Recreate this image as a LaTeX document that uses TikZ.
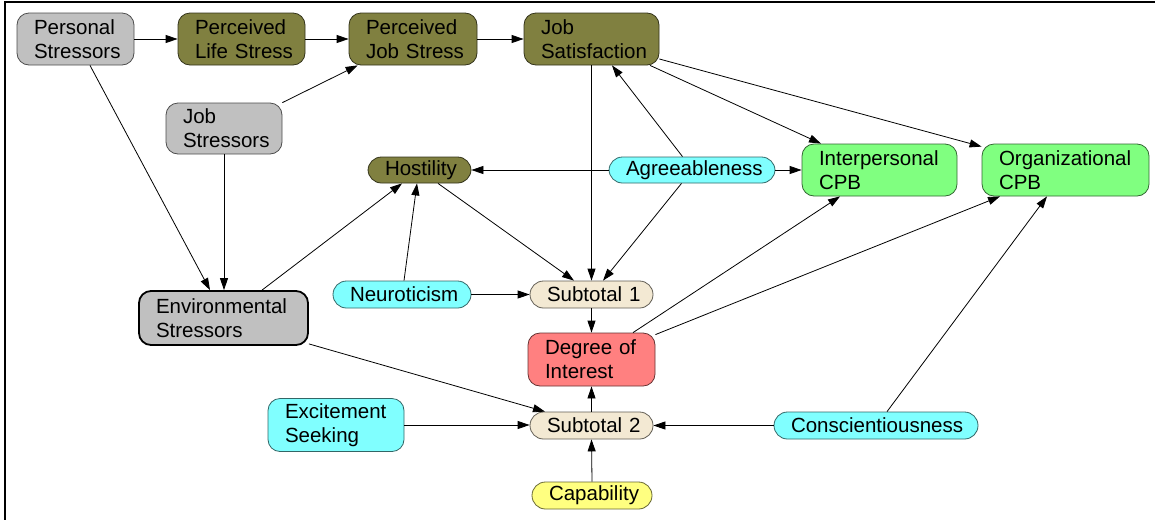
\documentclass[tikz,border=0pt]{standalone}
\usepackage{fontspec}
\setmainfont{Liberation Sans}
\usetikzlibrary{arrows.meta}
\definecolor{cgray}{HTML}{C0C0C0}
\definecolor{colive}{HTML}{808040}
\definecolor{ccyan}{HTML}{80FFFF}
\definecolor{cgreen}{HTML}{80FF80}
\definecolor{cbeige}{HTML}{F3E9D3}
\definecolor{cred}{HTML}{FF8080}
\definecolor{cyell}{HTML}{FFFF80}
\tikzset{
  base/.style={inner xsep=17pt, inner ysep=0pt, align=left, line width=0.8pt,
    font=\fontsize{20.5}{24}\selectfont},
  box/.style={base, rounded corners=12pt, minimum height=52pt, fill=#1, draw=#1!40!black},
  pill/.style={base, rounded corners=13.5pt, minimum height=27pt, fill=#1, draw=#1!40!black},
  edge/.style={-{Triangle[length=12pt,width=8pt]}, line width=0.8pt, black}
}
\begin{document}
\begin{tikzpicture}[x=1pt,y=-1pt]
\useasboundingbox (0,0) rectangle (1155,520);
\draw[line width=2pt] (1155,2) -- (5,2) -- (5,520);

\node[box=cgray, text width=83pt] (ps) at (75.5,39) {Personal\\Stressors};
\node[box=colive, text width=93pt] (pls) at (241.5,39) {Perceived\\Life~Stress};
\node[box=colive, text width=94pt] (pjs) at (413,39) {Perceived\\Job~Stress};
\node[box=colive, text width=101pt] (js) at (591.5,39) {Job\\Satisfaction};
\node[box=cgray, text width=82pt, minimum height=51pt] (jstr) at (224,128.5) {Job\\Stressors};
\node[pill=colive, text width=69pt, minimum height=26pt] (host) at (419.5,170) {Hostility};
\node[pill=ccyan, text width=132pt, minimum height=26pt] (agree) at (692,170) {Agreeableness};
\node[box=cgreen, text width=121pt] (interp) at (879.5,170) {Interpersonal\\CPB};
\node[box=cgreen, text width=133pt] (org) at (1065.5,170) {Organizational\\CPB};
\node[box=cgray, text width=135pt, minimum height=54pt, draw=black, line width=1.8pt] (env) at (223.5,318) {Environmental\\Stressors};
\node[pill=ccyan, text width=104pt] (neuro) at (402,294.5) {Neuroticism};
\node[pill=cbeige, text width=89pt] (sub1) at (591.5,294.5) {Subtotal~1};
\node[box=cred, text width=93pt, minimum height=53pt] (doi) at (591.5,359.5) {Degree~of\\Interest};
\node[pill=cbeige, text width=89pt] (sub2) at (591.5,425.5) {Subtotal~2};
\node[box=ccyan, text width=102pt, minimum height=53pt] (excite) at (336,425) {Excitement\\Seeking};
\node[pill=ccyan, text width=170pt] (consc) at (876,425.5) {Conscientiousness};
\node[pill=cyell, text width=86pt] (cap) at (592,495.5) {Capability};

\draw[edge] (ps.east) -- (pls.west);
\draw[edge] (pls.east) -- (pjs.west);
\draw[edge] (pjs.east) -- (js.west);
\draw[edge] (jstr.north east) -- ([xshift=9pt]pjs.south west);
\draw[edge] ([xshift=14.5pt]ps.south) -- ([xshift=-13.5pt]env.north);
\draw[edge] (jstr.south) -- (jstr.south |- env.north);
\draw[edge] ([xshift=38.5pt]env.north) -- ([xshift=-17.5pt]host.south);
\draw[edge] ([xshift=2pt]neuro.north) -- ([xshift=-2.5pt]host.south);
\draw[edge] ([xshift=18.5pt]host.south) -- ([xshift=-17.5pt]sub1.north);
\draw[edge] (js.south) -- (sub1.north);
\draw[edge] ([xshift=-10.5pt]agree.south) -- ([xshift=11.5pt]sub1.north);
\draw[edge] ([xshift=-9.5pt]agree.north) -- ([xshift=20.5pt]js.south);
\draw[edge] (agree.west) -- (host.east);
\draw[edge] (agree.east) -- (interp.west);
\draw[edge] ([xshift=58.5pt]js.south) -- ([xshift=-58.5pt]interp.north);
\draw[edge] ([yshift=-20pt]js.east) -- ([yshift=-3pt]org.north west);
\draw[edge] (neuro.east) -- (sub1.west);
\draw[edge] (sub1.south) -- (doi.north);
\draw[edge] ([xshift=41.5pt]doi.north) -- ([xshift=-39.5pt]interp.south);
\draw[edge] ([yshift=-2pt]doi.north east) -- ([xshift=-65.5pt]org.south);
\draw[edge] ([yshift=2pt]env.south east) -- ([xshift=-46.5pt]sub2.north);
\draw[edge] (sub2.north) -- (doi.south);
\draw[edge] (excite.east) -- (excite.east -| sub2.west);
\draw[edge] (consc.west) -- (sub2.east);
\draw[edge] (cap.north) -- (sub2.south);
\draw[edge] ([xshift=11pt]consc.north) -- ([xshift=-18.5pt]org.south);
\end{tikzpicture}
\end{document}
